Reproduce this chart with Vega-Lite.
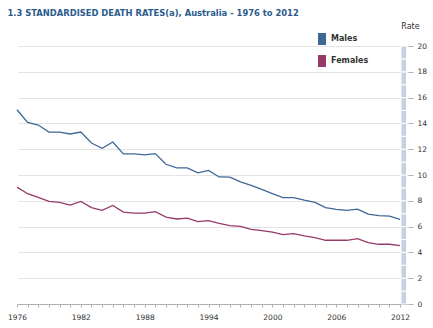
{
  "$schema": "https://vega.github.io/schema/vega-lite/v6.json",
  "width": 390,
  "height": 258,
  "autosize": "none",
  "padding": {"left": 17, "top": 46, "right": 26, "bottom": 24},
  "background": "white",
  "title": {
    "text": "1.3 STANDARDISED DEATH RATES(a), Australia - 1976 to 2012",
    "anchor": "start",
    "dx": 0,
    "offset": 5,
    "font": "DejaVu Sans",
    "fontSize": 8.4,
    "fontWeight": "bold",
    "color": "#2b5c8c"
  },
  "config": {
    "view": {"stroke": null},
    "font": "DejaVu Sans",
    "axis": {"labelOverlap": false},
    "axisX": {
      "title": null,
      "grid": false,
      "domainColor": "#b0b0b0",
      "tickColor": "#b0b0b0",
      "tickSize": 3,
      "labelFont": "DejaVu Sans",
      "labelFontSize": 7.5,
      "labelColor": "#333333",
      "labelPadding": 6,
      "labelFlush": false,
      "labelOverlap": false
    },
    "axisY": {
      "orient": "right",
      "titleAngle": 0,
      "titleAlign": "center",
      "titleBaseline": "middle",
      "titleX": 2,
      "titleY": -20,
      "titleFont": "DejaVu Sans",
      "titleFontSize": 8,
      "titleFontWeight": "normal",
      "titleColor": "#333333",
      "domain": false,
      "offset": 1,
      "tickSize": 5,
      "tickColor": "#b0b0b0",
      "labelFont": "DejaVu Sans",
      "labelFontSize": 7.5,
      "labelColor": "#333333",
      "labelPadding": 4,
      "labelOverlap": false,
      "gridColor": "#e3e3e3",
      "gridWidth": 1
    }
  },
  "datasets": {
    "rates": [
      {"year": 1976, "sex": "Males", "rate": 15.06}, {"year": 1977, "sex": "Males", "rate": 14.08},
      {"year": 1978, "sex": "Males", "rate": 13.87}, {"year": 1979, "sex": "Males", "rate": 13.33},
      {"year": 1980, "sex": "Males", "rate": 13.33}, {"year": 1981, "sex": "Males", "rate": 13.18},
      {"year": 1982, "sex": "Males", "rate": 13.33}, {"year": 1983, "sex": "Males", "rate": 12.48},
      {"year": 1984, "sex": "Males", "rate": 12.07}, {"year": 1985, "sex": "Males", "rate": 12.56},
      {"year": 1986, "sex": "Males", "rate": 11.64}, {"year": 1987, "sex": "Males", "rate": 11.64},
      {"year": 1988, "sex": "Males", "rate": 11.56}, {"year": 1989, "sex": "Males", "rate": 11.66},
      {"year": 1990, "sex": "Males", "rate": 10.83}, {"year": 1991, "sex": "Males", "rate": 10.55},
      {"year": 1992, "sex": "Males", "rate": 10.55}, {"year": 1993, "sex": "Males", "rate": 10.17},
      {"year": 1994, "sex": "Males", "rate": 10.36}, {"year": 1995, "sex": "Males", "rate": 9.85},
      {"year": 1996, "sex": "Males", "rate": 9.83}, {"year": 1997, "sex": "Males", "rate": 9.47},
      {"year": 1998, "sex": "Males", "rate": 9.19}, {"year": 1999, "sex": "Males", "rate": 8.88},
      {"year": 2000, "sex": "Males", "rate": 8.55}, {"year": 2001, "sex": "Males", "rate": 8.24},
      {"year": 2002, "sex": "Males", "rate": 8.24}, {"year": 2003, "sex": "Males", "rate": 8.05},
      {"year": 2004, "sex": "Males", "rate": 7.88}, {"year": 2005, "sex": "Males", "rate": 7.47},
      {"year": 2006, "sex": "Males", "rate": 7.34}, {"year": 2007, "sex": "Males", "rate": 7.26},
      {"year": 2008, "sex": "Males", "rate": 7.36}, {"year": 2009, "sex": "Males", "rate": 6.97},
      {"year": 2010, "sex": "Males", "rate": 6.85}, {"year": 2011, "sex": "Males", "rate": 6.82},
      {"year": 2012, "sex": "Males", "rate": 6.56},
      {"year": 1976, "sex": "Females", "rate": 9.06}, {"year": 1977, "sex": "Females", "rate": 8.55},
      {"year": 1978, "sex": "Females", "rate": 8.26}, {"year": 1979, "sex": "Females", "rate": 7.95},
      {"year": 1980, "sex": "Females", "rate": 7.88}, {"year": 1981, "sex": "Females", "rate": 7.67},
      {"year": 1982, "sex": "Females", "rate": 7.95}, {"year": 1983, "sex": "Females", "rate": 7.47},
      {"year": 1984, "sex": "Females", "rate": 7.26}, {"year": 1985, "sex": "Females", "rate": 7.64},
      {"year": 1986, "sex": "Females", "rate": 7.13}, {"year": 1987, "sex": "Females", "rate": 7.05},
      {"year": 1988, "sex": "Females", "rate": 7.05}, {"year": 1989, "sex": "Females", "rate": 7.16},
      {"year": 1990, "sex": "Females", "rate": 6.74}, {"year": 1991, "sex": "Females", "rate": 6.59},
      {"year": 1992, "sex": "Females", "rate": 6.66}, {"year": 1993, "sex": "Females", "rate": 6.38},
      {"year": 1994, "sex": "Females", "rate": 6.47}, {"year": 1995, "sex": "Females", "rate": 6.25},
      {"year": 1996, "sex": "Females", "rate": 6.07}, {"year": 1997, "sex": "Females", "rate": 6.02},
      {"year": 1998, "sex": "Females", "rate": 5.79}, {"year": 1999, "sex": "Females", "rate": 5.69},
      {"year": 2000, "sex": "Females", "rate": 5.58}, {"year": 2001, "sex": "Females", "rate": 5.38},
      {"year": 2002, "sex": "Females", "rate": 5.46}, {"year": 2003, "sex": "Females", "rate": 5.28},
      {"year": 2004, "sex": "Females", "rate": 5.15}, {"year": 2005, "sex": "Females", "rate": 4.94},
      {"year": 2006, "sex": "Females", "rate": 4.94}, {"year": 2007, "sex": "Females", "rate": 4.94},
      {"year": 2008, "sex": "Females", "rate": 5.07}, {"year": 2009, "sex": "Females", "rate": 4.76},
      {"year": 2010, "sex": "Females", "rate": 4.63}, {"year": 2011, "sex": "Females", "rate": 4.63},
      {"year": 2012, "sex": "Females", "rate": 4.53}
    ],
    "band": [
      {"lo": 0, "hi": 1}, {"lo": 1, "hi": 2}, {"lo": 2, "hi": 3}, {"lo": 3, "hi": 4},
      {"lo": 4, "hi": 5}, {"lo": 5, "hi": 6}, {"lo": 6, "hi": 7}, {"lo": 7, "hi": 8},
      {"lo": 8, "hi": 9}, {"lo": 9, "hi": 10}, {"lo": 10, "hi": 11}, {"lo": 11, "hi": 12},
      {"lo": 12, "hi": 13}, {"lo": 13, "hi": 14}, {"lo": 14, "hi": 15}, {"lo": 15, "hi": 16},
      {"lo": 16, "hi": 17}, {"lo": 17, "hi": 18}, {"lo": 18, "hi": 19}, {"lo": 19, "hi": 20}
    ]
  },
  "layer": [
    {
      "data": {"name": "rates"},
      "mark": {"type": "line", "strokeWidth": 1.3},
      "encoding": {
        "x": {"field": "year", "type": "quantitative",
          "scale": {"domain": [1976, 2012.65], "nice": false, "zero": false},
          "axis": {
            "values": [1976,1977,1978,1979,1980,1981,1982,1983,1984,1985,1986,1987,1988,1989,1990,1991,1992,1993,1994,1995,1996,1997,1998,1999,2000,2001,2002,2003,2004,2005,2006,2007,2008,2009,2010,2011,2012],
            "labelExpr": "(datum.value - 1976) % 6 == 0 ? datum.value : ''",
            "format": "d",
            "labelOverlap": false
          }},
        "y": {"field": "rate", "type": "quantitative", "title": "Rate",
          "scale": {"domain": [0, 20], "nice": false},
          "axis": {"values": [0,2,4,6,8,10,12,14,16,18,20], "labelOverlap": false}},
        "color": {
          "field": "sex", "type": "nominal",
          "scale": {"domain": ["Males", "Females"], "range": ["#3d6896", "#973a68"]},
          "legend": {
            "title": null,
            "orient": "none",
            "legendX": 299,
            "legendY": -13,
            "padding": 0,
            "symbolType": "M-0.67,-1H0.67V1H-0.67Z",
            "symbolSize": 144,
            "symbolStrokeWidth": 0,
            "rowPadding": 10,
            "labelOffset": 3,
            "labelFont": "DejaVu Sans",
            "labelFontSize": 8,
            "labelFontWeight": "bold",
            "labelColor": "#333333",
            "encode": {
              "symbols": {"update": {"fill": {"scale": "color", "field": "value"}, "opacity": {"value": 1}}}
            }
          }
        }
      }
    },
    {
      "data": {"name": "band"},
      "mark": {"type": "rect", "color": "#c4d2e1", "stroke": "white", "strokeWidth": 1},
      "encoding": {
        "x": {"datum": 2012.08, "type": "quantitative",
          "axis": {
            "values": [1976,1977,1978,1979,1980,1981,1982,1983,1984,1985,1986,1987,1988,1989,1990,1991,1992,1993,1994,1995,1996,1997,1998,1999,2000,2001,2002,2003,2004,2005,2006,2007,2008,2009,2010,2011,2012],
            "labelExpr": "(datum.value - 1976) % 6 == 0 ? datum.value : ''",
            "format": "d",
            "labelOverlap": false
          }},
        "x2": {"datum": 2012.62},
        "y": {"field": "lo", "type": "quantitative", "title": "Rate",
          "axis": {"values": [0,2,4,6,8,10,12,14,16,18,20], "labelOverlap": false}},
        "y2": {"field": "hi"}
      }
    }
  ]
}
